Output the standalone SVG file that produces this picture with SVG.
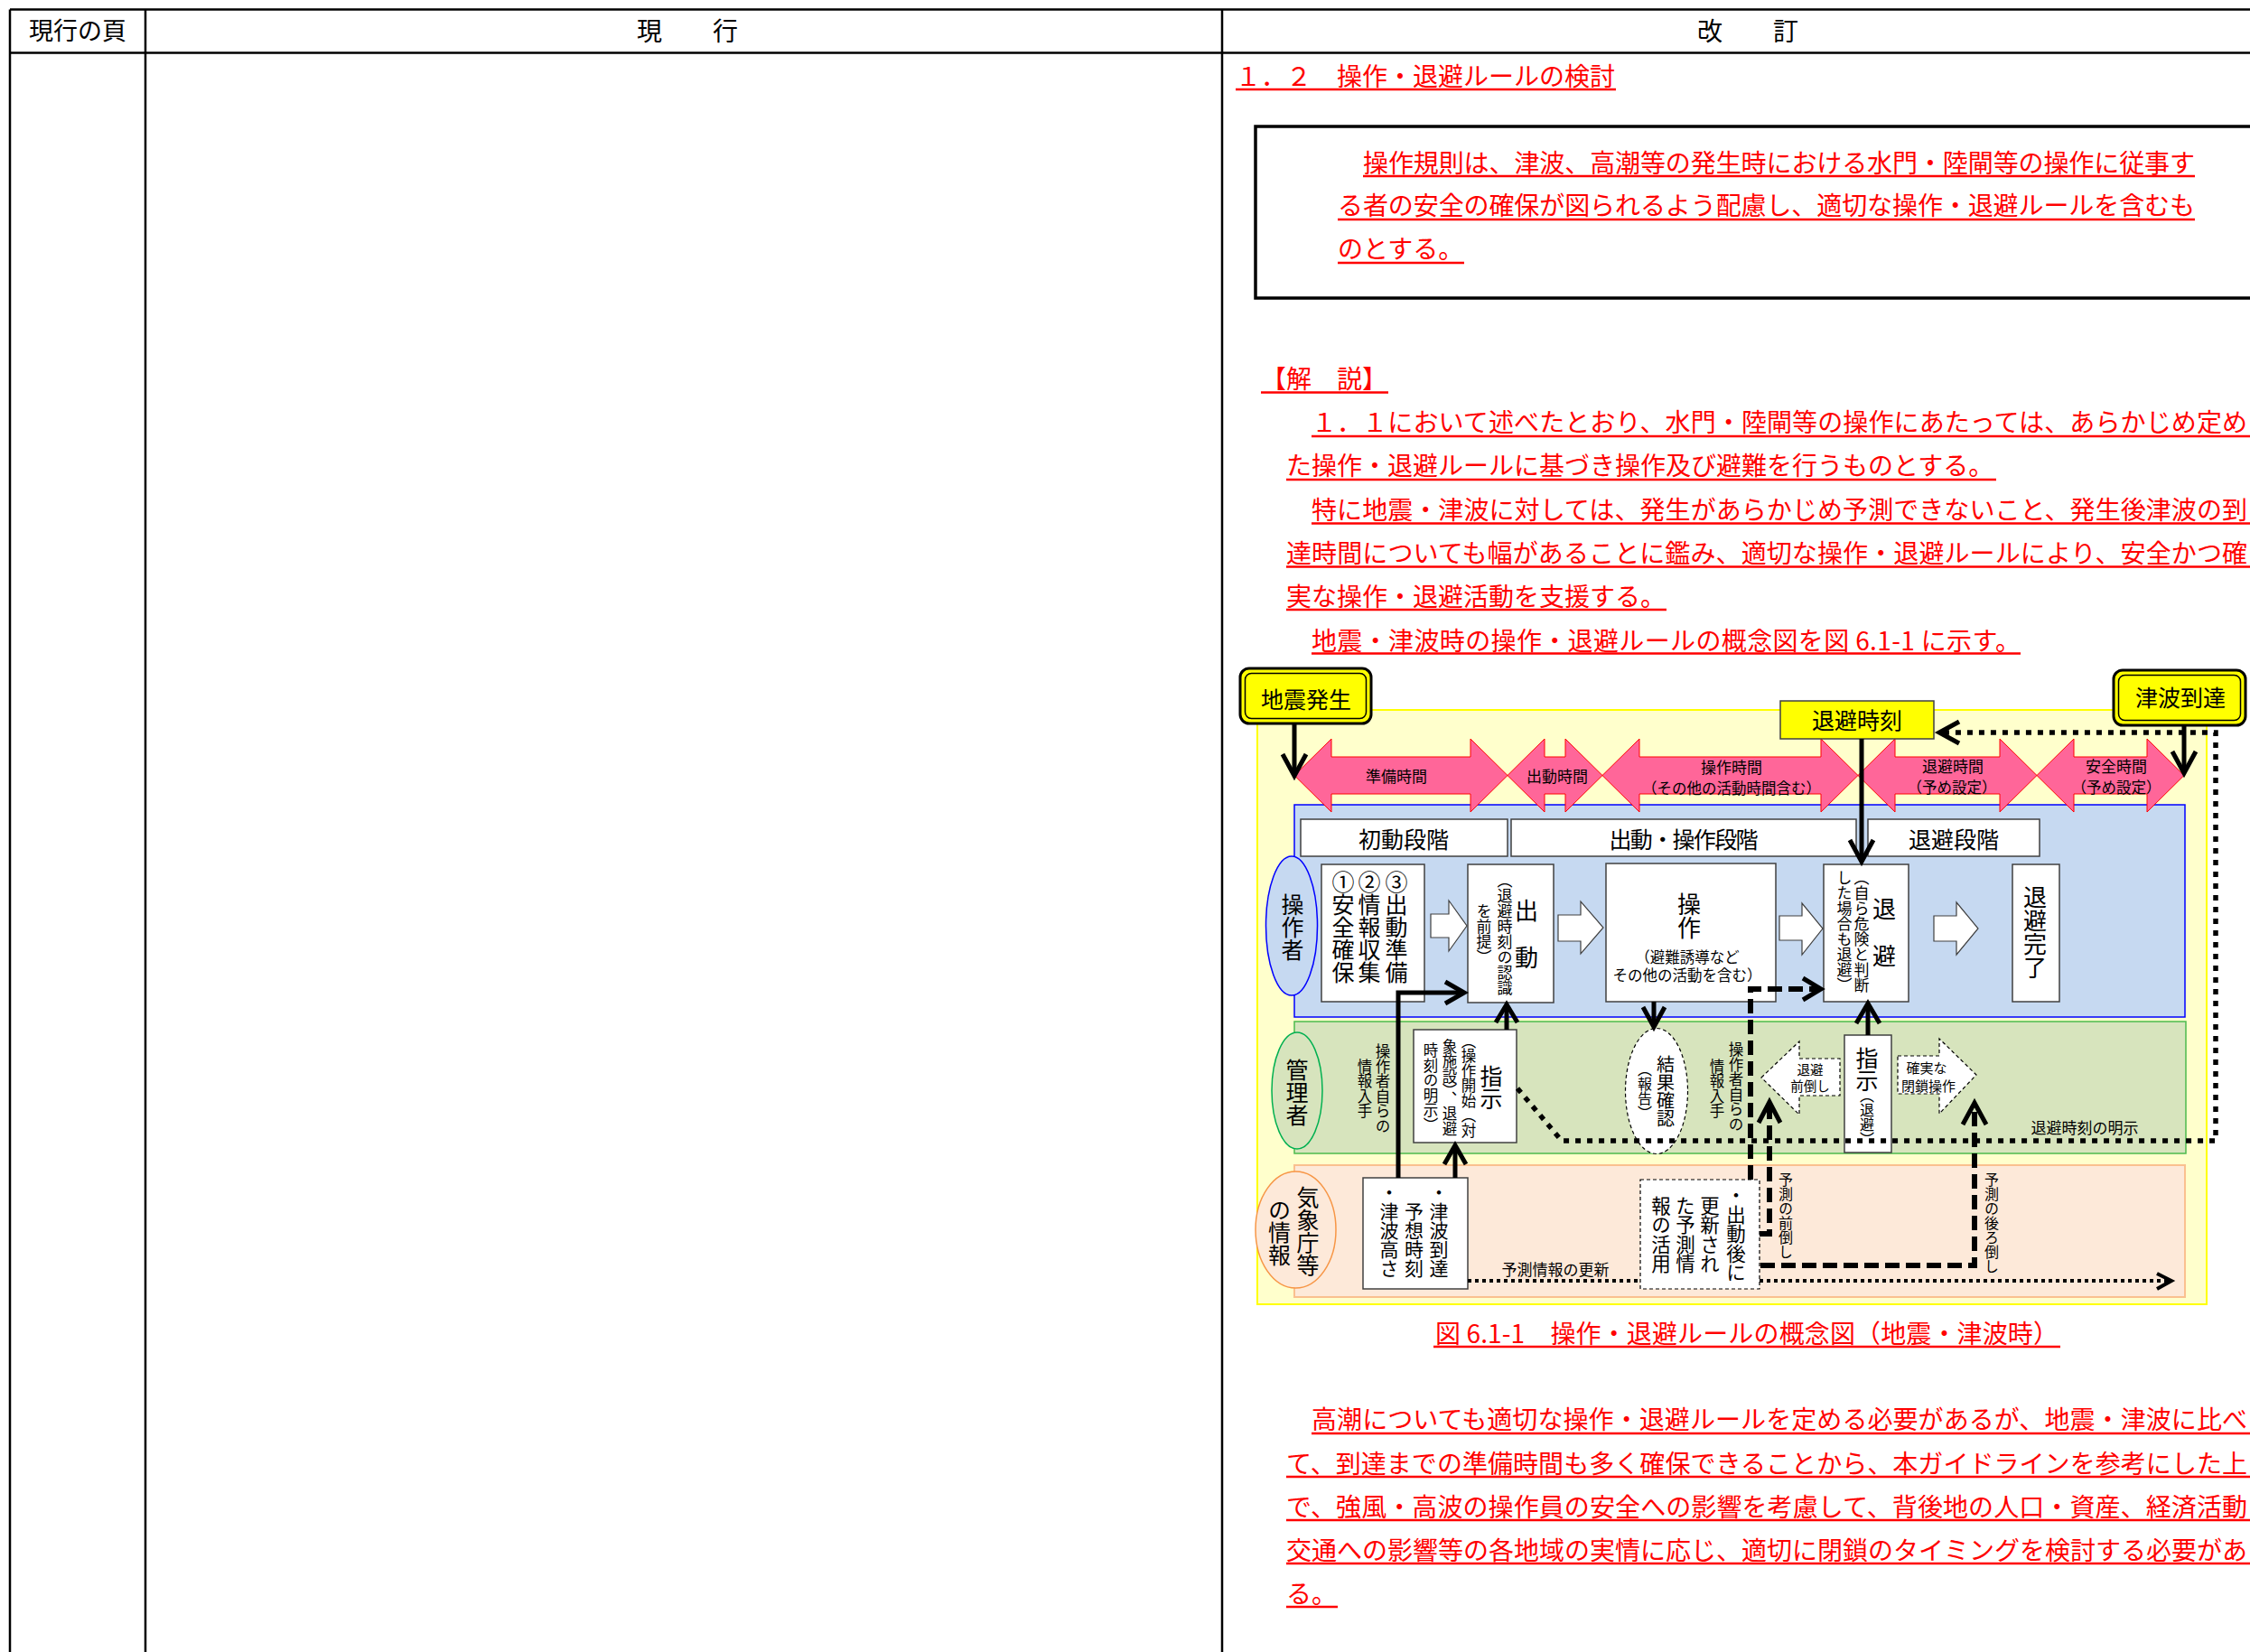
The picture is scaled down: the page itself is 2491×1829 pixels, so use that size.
<svg xmlns="http://www.w3.org/2000/svg" width="2491" height="1829" viewBox="0 0 2491 1829">
<style>
text { font-family: "Noto Sans CJK JP", "Noto Sans", sans-serif; fill: #000; }
.hd { font-size: 27px; }
.rd { font-size: 28px; fill: #FF0000; }
.ul { stroke: #FF0000; stroke-width: 2.5; }
.tb { stroke: #000; stroke-width: 2.5; }
.v { writing-mode: vertical-rl; text-anchor: middle; }
.mid { text-anchor: middle; }
.big { font-size: 25px; }
.sm { font-size: 17px; }
.box { fill: #FFFFFF; stroke: #404040; stroke-width: 1.5; }
.pink { fill: #FF6699; stroke: #FF0000; stroke-width: 1; }
.blk { fill: #FFFFFF; stroke: #404040; stroke-width: 1.2; }
.dsh { fill: #FFFFFF; stroke: #000; stroke-width: 1.2; stroke-dasharray: 4 3; }
.yel { fill: #FFFF00; }
.c { fill: none; stroke: #000; stroke-width: 5; }
.cd { fill: none; stroke: #000; stroke-width: 6; stroke-dasharray: 16 7; }
.cdot { fill: none; stroke: #000; stroke-width: 5.5; stroke-dasharray: 6 7; }
.cdot2 { fill: none; stroke: #000; stroke-width: 4; stroke-dasharray: 4 4; }
</style>

<g id="table">
  <line class="tb" x1="11" y1="10.5" x2="2491" y2="10.5"/>
  <line class="tb" x1="11" y1="58.5" x2="2491" y2="58.5"/>
  <line class="tb" x1="11" y1="10.5" x2="11" y2="1829"/>
  <line class="tb" x1="161" y1="10.5" x2="161" y2="1829"/>
  <line class="tb" x1="1353" y1="10.5" x2="1353" y2="1829"/>
  <text class="hd mid" x="86" y="44">現行の頁</text>
  <text class="hd mid" x="761" y="45" style="font-size:28px">現　　行</text>
  <text class="hd mid" x="1935" y="45" style="font-size:28px">改　　訂</text>
</g>

<g id="heading">
  <text class="rd" x="1368" y="95">１．２　操作・退避ルールの検討</text>
  <line class="ul" x1="1368" y1="99" x2="1789" y2="99"/>
</g>

<g id="rule-box">
  <rect x="1390" y="140" width="1200" height="190" fill="none" stroke="#000" stroke-width="3.5"/>
  <text class="rd" x="1509" y="191" textLength="921">操作規則は、津波、高潮等の発生時における水門・陸閘等の操作に従事す</text>
  <text class="rd" x="1481" y="238" textLength="949">る者の安全の確保が図られるよう配慮し、適切な操作・退避ルールを含むも</text>
  <text class="rd" x="1481" y="286">のとする。</text>
  <line class="ul" x1="1509" y1="195" x2="2430" y2="195"/>
  <line class="ul" x1="1481" y1="243" x2="2430" y2="243"/>
  <line class="ul" x1="1481" y1="291" x2="1621" y2="291"/>
</g>

<g id="commentary">
  <text class="rd" x="1396" y="430">【解　説】</text>
  <line class="ul" x1="1396" y1="434.5" x2="1537" y2="434.5"/>
  <text class="rd" x="1452" y="478" textLength="1036">１．１において述べたとおり、水門・陸閘等の操作にあたっては、あらかじめ定め</text>
  <line class="ul" x1="1452" y1="483" x2="2491" y2="483"/>
  <text class="rd" x="1424" y="526">た操作・退避ルールに基づき操作及び避難を行うものとする。</text>
  <line class="ul" x1="1424" y1="531" x2="2210" y2="531"/>
  <text class="rd" x="1452" y="575" textLength="1036">特に地震・津波に対しては、発生があらかじめ予測できないこと、発生後津波の到</text>
  <line class="ul" x1="1452" y1="579.5" x2="2491" y2="579.5"/>
  <text class="rd" x="1424" y="623" textLength="1064">達時間についても幅があることに鑑み、適切な操作・退避ルールにより、安全かつ確</text>
  <line class="ul" x1="1424" y1="627.5" x2="2491" y2="627.5"/>
  <text class="rd" x="1424" y="671">実な操作・退避活動を支援する。</text>
  <line class="ul" x1="1424" y1="675" x2="1845" y2="675"/>
  <text class="rd" x="1452" y="720" textLength="785">地震・津波時の操作・退避ルールの概念図を図 6.1-1 に示す。</text>
  <line class="ul" x1="1452" y1="723.5" x2="2237" y2="723.5"/>
</g>

<g id="caption">
  <text class="rd" x="1589" y="1487" textLength="690">図 6.1-1　操作・退避ルールの概念図（地震・津波時）</text>
  <line class="ul" x1="1587" y1="1491" x2="2281" y2="1491"/>
</g>

<g id="commentary-2">
  <text class="rd" x="1452" y="1582" textLength="1036">高潮についても適切な操作・退避ルールを定める必要があるが、地震・津波に比べ</text>
  <line class="ul" x1="1452" y1="1587" x2="2491" y2="1587"/>
  <text class="rd" x="1424" y="1630.5" textLength="1064">て、到達までの準備時間も多く確保できることから、本ガイドラインを参考にした上</text>
  <line class="ul" x1="1424" y1="1635" x2="2491" y2="1635"/>
  <text class="rd" x="1424" y="1678.5" textLength="1064">で、強風・高波の操作員の安全への影響を考慮して、背後地の人口・資産、経済活動</text>
  <line class="ul" x1="1424" y1="1683" x2="2491" y2="1683"/>
  <text class="rd" x="1424" y="1726.5" textLength="1064">交通への影響等の各地域の実情に応じ、適切に閉鎖のタイミングを検討する必要があ</text>
  <line class="ul" x1="1424" y1="1731" x2="2491" y2="1731"/>
  <text class="rd" x="1424" y="1775">る。</text>
  <line class="ul" x1="1424" y1="1779" x2="1481" y2="1779"/>
</g>

<!-- diagram backgrounds -->
<g id="fig-background">
  <rect x="1392" y="786" width="1051" height="658" fill="#FFFFCC" stroke="#FFFF00" stroke-width="2"/>
</g>
<g id="lane-operator">
  <rect x="1433" y="891" width="986" height="235" fill="#C6D9F1" stroke="#0000FF" stroke-width="1.5"/>
</g>
<g id="lane-manager">
  <rect x="1433" y="1131" width="987" height="146" fill="#D7E4BD" stroke="#4DBB4D" stroke-width="1.5"/>
</g>
<g id="lane-jma">
  <rect x="1433" y="1290" width="986" height="146" fill="#FDE9D9" stroke="#FAC08F" stroke-width="2"/>
</g>

<!-- time bar -->
<g id="t-junbi">
  <polygon class="pink" points="1433,858.5 1474,818 1474,838 1628,838 1628,818 1669,858.5 1628,899 1628,879 1474,879 1474,899"/>
  <text class="sm mid" x="1546" y="866">準備時間</text>
</g>
<g id="t-shutsudo">
  <polygon class="pink" points="1669,858.5 1710,818 1710,838 1733,838 1733,818 1774,858.5 1733,899 1733,879 1710,879 1710,899"/>
  <text class="sm mid" x="1724" y="866">出動時間</text>
</g>
<g id="t-sousa">
  <polygon class="pink" points="1774,858.5 1815,818 1815,838 2016,838 2016,818 2057,858.5 2016,899 2016,879 1815,879 1815,899"/>
  <text class="sm mid" x="1917" y="856">操作時間</text>
  <text class="mid" x="1917" y="879" style="font-size:16.5px">（その他の活動時間含む）</text>
</g>
<g id="t-taihi">
  <polygon class="pink" points="2057,858.5 2098,818 2098,838 2214,838 2214,818 2255,858.5 2214,899 2214,879 2098,879 2098,899"/>
  <text class="sm mid" x="2162" y="855">退避時間</text>
  <text class="mid" x="2161" y="878" style="font-size:16.5px">（予め設定）</text>
</g>
<g id="t-anzen">
  <polygon class="pink" points="2255,858.5 2296,818 2296,838 2377,838 2377,818 2418,858.5 2377,899 2377,879 2296,879 2296,899"/>
  <text class="sm mid" x="2343" y="855">安全時間</text>
  <text class="mid" x="2343" y="878" style="font-size:16.5px">（予め設定）</text>
</g>

<g id="jishin">
  <rect x="1373" y="740" width="145" height="61" rx="10" class="yel" stroke="#000" stroke-width="3"/>
  <rect x="1378.5" y="745.5" width="134" height="50" rx="7" fill="none" stroke="#000" stroke-width="1.5"/>
  <text class="big mid" x="1446" y="784">地震発生</text>
</g>
<g id="tsunami">
  <rect x="2340" y="742" width="146" height="61" rx="10" class="yel" stroke="#000" stroke-width="3"/>
  <rect x="2345.5" y="747.5" width="135" height="50" rx="7" fill="none" stroke="#000" stroke-width="1.5"/>
  <text class="big mid" x="2414" y="782">津波到達</text>
</g>
<g id="taihi-jikoku">
  <rect x="1971" y="776" width="170" height="42" class="yel" stroke="#404040" stroke-width="1.5"/>
  <text class="big mid" x="2056" y="807">退避時刻</text>
</g>

<!-- phase headers -->
<g id="phase-initial">
  <rect class="box" x="1440" y="907" width="229" height="41"/>
  <text class="big mid" x="1554" y="939">初動段階</text>
</g>
<g id="phase-operation">
  <rect class="box" x="1673" y="907" width="382" height="41"/>
  <text class="big mid" x="1864" y="939" textLength="165">出動・操作段階</text>
</g>
<g id="phase-evac">
  <rect class="box" x="2068" y="907" width="190" height="41"/>
  <text class="big mid" x="2163" y="939">退避段階</text>
</g>

<!-- lane labels -->
<g id="label-operator">
  <ellipse cx="1430" cy="1025" rx="28.5" ry="77" fill="#C6D9F1" stroke="#0000FF" stroke-width="1.5"/>
  <text class="big v" x="1431" y="1026">操作者</text>
</g>
<g id="label-manager">
  <ellipse cx="1436" cy="1207.5" rx="28" ry="64.5" fill="#D7E4BD" stroke="#00B050" stroke-width="1.5"/>
  <text class="big v" x="1436" y="1209">管理者</text>
</g>
<g id="label-jma">
  <ellipse cx="1434.5" cy="1361.5" rx="44.5" ry="64.5" fill="#FDE9D9" stroke="#F79646" stroke-width="1.5"/>
  <text class="big v" x="1448" y="1363">気象庁等</text>
  <text class="big v" x="1416.5" y="1364">の情報</text>
</g>

<!-- operator lane nodes -->
<g id="initial-tasks">
  <rect class="box" x="1463" y="957" width="114" height="152"/>
  <text class="big v" x="1487" y="1026">①安全確保</text>
  <text class="big v" x="1516" y="1026">②情報収集</text>
  <text class="big v" x="1546" y="1026">③出動準備</text>
</g>
<g id="shutsudo">
  <rect class="box" x="1625" y="957" width="95" height="153"/>
  <text class="v" x="1690" y="1034" style="font-size:26px">出　動</text>
  <text class="sm v" x="1666" y="1034">（退避時刻の認識</text>
  <text class="sm v" x="1643" y="1034">を前提）</text>
</g>
<g id="sousa">
  <rect class="box" x="1778" y="956" width="188" height="153"/>
  <text class="v" x="1870" y="1014" style="font-size:26px">操作</text>
  <text class="mid" x="1868" y="1066" style="font-size:16.5px">（避難誘導など</text>
  <text class="mid" x="1868" y="1086" style="font-size:16.5px">その他の活動を含む）</text>
</g>
<g id="taihi">
  <rect class="box" x="2019" y="957" width="94" height="152"/>
  <text class="v" x="2086" y="1032" style="font-size:26px">退　避</text>
  <text class="sm v" x="2061" y="1031">（自ら危険と判断</text>
  <text class="sm v" x="2042" y="1031">した場合も退避）</text>
</g>
<g id="taihi-kanryo">
  <rect class="box" x="2228" y="957" width="52" height="152"/>
  <text class="v" x="2253" y="1032" style="font-size:26px">退避完了</text>
</g>
<g id="flow-arrows">
  <polygon class="blk" points="1584,1012 1604,1012 1604,997 1624,1025 1604,1053 1604,1038 1584,1038"/>
  <polygon class="blk" points="1725,1013 1750,1013 1750,998 1775,1027 1750,1056 1750,1042 1725,1042"/>
  <polygon class="blk" points="1970,1014 1995,1014 1995,1000 2018,1028 1995,1057 1995,1041 1970,1041"/>
  <polygon class="blk" points="2141,1014 2166,1014 2166,999 2190,1028 2166,1057 2166,1042 2141,1042"/>
</g>

<!-- manager lane nodes -->
<g id="shiji-1">
  <rect class="box" x="1565" y="1140" width="114" height="125"/>
  <text class="big v" x="1651" y="1204">指示</text>
  <text class="v" x="1626" y="1202" style="font-size:16.5px">（操作開始（対</text>
  <text class="v" x="1605" y="1204" style="font-size:16.5px">象施設）、退避</text>
  <text class="v" x="1584" y="1204" style="font-size:16.5px">時刻の明示）</text>
</g>
<g id="info-1">
  <text class="v" x="1531" y="1205" style="font-size:16.5px">操作者自らの</text>
  <text class="v" x="1511" y="1205" style="font-size:16.5px">情報入手</text>
</g>
<g id="kekka">
  <ellipse class="dsh" cx="1834" cy="1208" rx="34.5" ry="69.5"/>
  <text class="v" x="1844" y="1208" style="font-size:20px">結果確認</text>
  <text class="v" x="1821" y="1208" style="font-size:16px">（報告）</text>
</g>
<g id="info-2">
  <text class="v" x="1922" y="1203" style="font-size:16.5px">操作者自らの</text>
  <text class="v" x="1901" y="1205" style="font-size:16.5px">情報入手</text>
</g>
<g id="taihi-maedaoshi">
  <polygon class="dsh" points="1950,1193 1992,1153 1992,1172 2037,1172 2037,1213 1992,1213 1992,1234"/>
  <text class="mid" x="2004" y="1190" style="font-size:14.5px">退避</text>
  <text class="mid" x="2004" y="1208" style="font-size:14.5px">前倒し</text>
</g>
<g id="shiji-2">
  <rect class="box" x="2042" y="1146" width="52" height="130"/>
  <text class="big v" x="2067" y="1184">指示</text>
  <text class="v" x="2067" y="1237" style="font-size:16px">（退避）</text>
</g>
<g id="heisa">
  <polygon class="dsh" points="2101,1169 2147,1169 2147,1150 2188,1190 2147,1233 2147,1211 2101,1211"/>
  <text class="mid" x="2133" y="1188" style="font-size:15px">確実な</text>
  <text class="mid" x="2135" y="1208" style="font-size:15px">閉鎖操作</text>
</g>
<g id="label-meiji">
  <text class="sm mid" x="2308" y="1255">退避時刻の明示</text>
</g>

<!-- JMA lane nodes -->
<g id="yosou">
  <rect class="box" x="1509" y="1304" width="116" height="123"/>
  <text class="v" x="1593" y="1310" style="font-size:21px;text-anchor:start">・津波到達</text>
  <text class="v" x="1565.5" y="1331" style="font-size:21px;text-anchor:start">予想時刻</text>
  <text class="v" x="1538" y="1310" style="font-size:21px;text-anchor:start">・津波高さ</text>
</g>
<g id="koushin">
  <rect class="dsh" x="1816" y="1306" width="132" height="121"/>
  <text class="v" x="1922" y="1366" style="font-size:21.5px">・出動後に</text>
  <text class="v" x="1893" y="1367" style="font-size:21.5px">更新され</text>
  <text class="v" x="1866" y="1367" style="font-size:21.5px">た予測情</text>
  <text class="v" x="1839" y="1367" style="font-size:21.5px">報の活用</text>
</g>
<g id="label-koushin">
  <text class="sm mid" x="1722" y="1412">予測情報の更新</text>
</g>
<g id="label-maedaoshi">
  <text class="v" x="1977" y="1346" style="font-size:16px">予測の前倒し</text>
</g>
<g id="label-atodaoshi">
  <text class="v" x="2205" y="1354" style="font-size:16px">予測の後ろ倒し</text>
</g>

<!-- connectors -->
<g id="connectors">
  <line class="c" x1="1433" y1="802" x2="1433" y2="856"/>
  <polyline class="c" points="1420,835 1433,859 1446,835"/>
  <line class="c" x1="2418" y1="803" x2="2418" y2="855"/>
  <polyline class="c" points="2405,832 2418,856 2431,832"/>
  <line class="c" x1="2061" y1="818" x2="2061" y2="953"/>
  <polyline class="c" points="2048,930 2061,954 2074,930"/>
  <polyline class="cdot" points="1680,1205 1729,1263 2453,1263 2453,811 2150,811"/>
  <polyline class="c" points="2169,799 2147,811 2169,823"/>
  <line class="c" x1="1831" y1="1109" x2="1831" y2="1136"/>
  <polyline class="c" points="1819,1115 1831,1137 1843,1115"/>
  <line class="c" x1="1668" y1="1140" x2="1668" y2="1114"/>
  <polyline class="c" points="1656,1132 1668,1112 1680,1132"/>
  <line class="c" x1="1611" y1="1304" x2="1611" y2="1269"/>
  <polyline class="c" points="1599,1289 1611,1268 1623,1289"/>
  <polyline class="c" points="1548,1304 1548,1099 1619,1099"/>
  <polyline class="c" points="1600,1087 1621,1099 1600,1111"/>
  <line class="c" x1="2068" y1="1146" x2="2068" y2="1112"/>
  <polyline class="c" points="2055,1133 2068,1111 2081,1133"/>
  <polyline class="cd" points="1938,1306 1938,1095 2014,1095"/>
  <polyline class="c" points="1996,1083 2016,1095 1996,1107"/>
  <polyline class="cd" points="1948,1366 1959,1366 1959,1222"/>
  <polyline class="c" points="1947,1243 1959,1220 1971,1243"/>
  <polyline class="cd" points="1949,1401 2186,1401 2186,1224"/>
  <polyline class="c" points="2173,1245 2186,1221 2199,1245"/>
  <line class="cdot2" x1="1625" y1="1418" x2="1816" y2="1418"/>
  <line class="cdot2" x1="1948" y1="1418" x2="2402" y2="1418"/>
  <polyline class="c" points="2388,1410 2404,1418 2388,1427" style="stroke-width:4"/>
</g>
</svg>
